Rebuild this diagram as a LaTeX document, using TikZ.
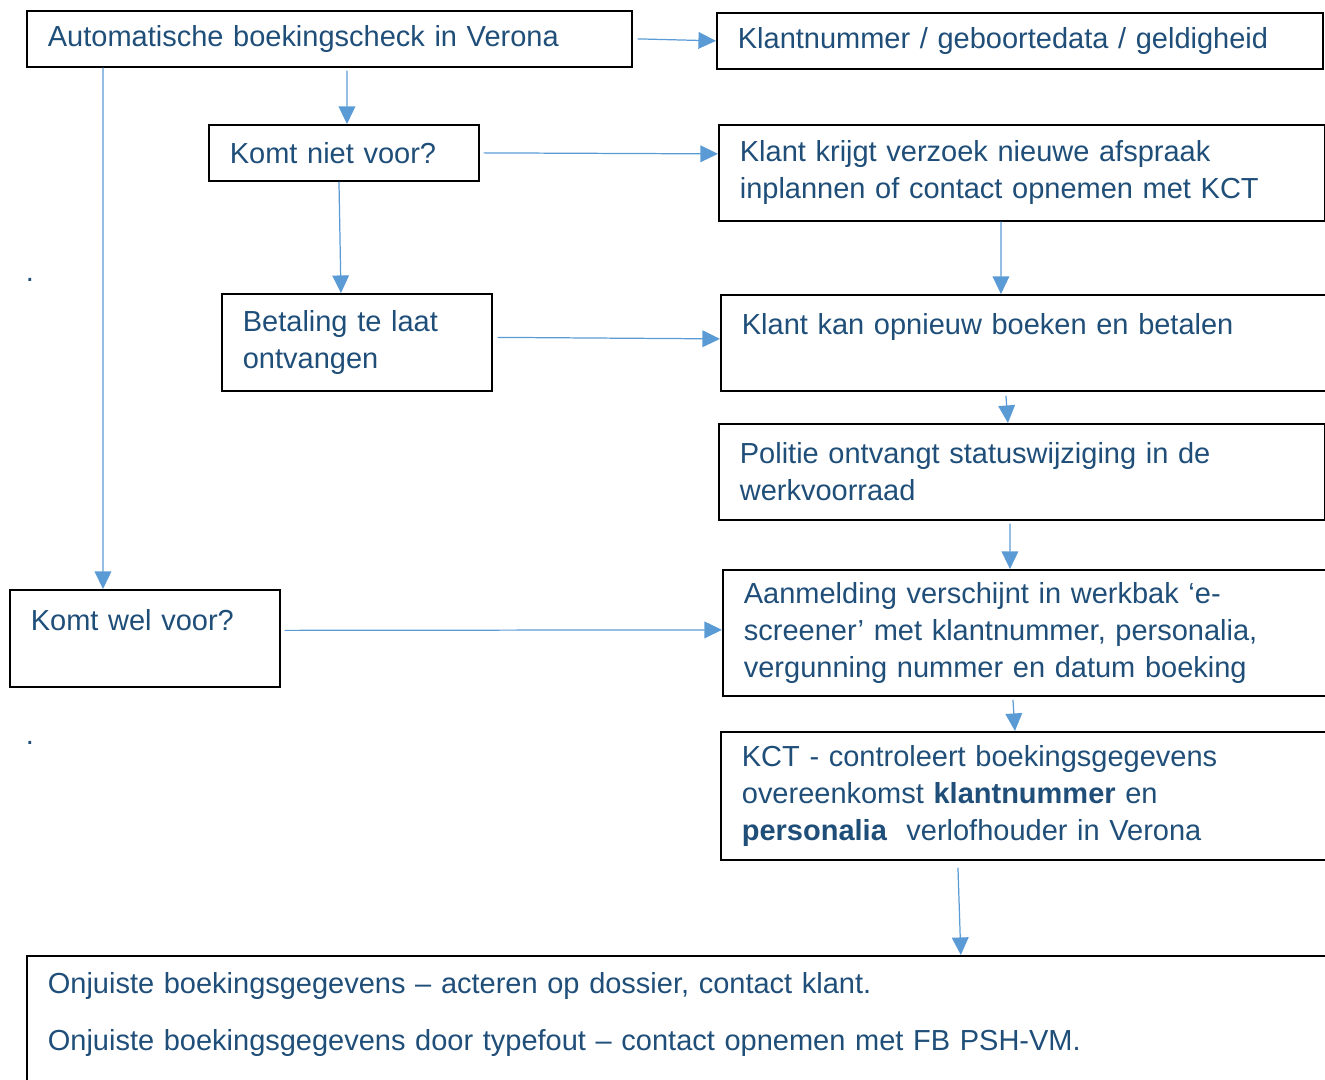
\documentclass[tikz,border=0pt]{standalone}
\usepackage{fontspec}
\setmainfont{Liberation Sans}
\usetikzlibrary{arrows.meta}
\definecolor{tekstblauw}{HTML}{1F4E79}
\definecolor{pijlblauw}{HTML}{5B9BD5}
\begin{document}
\begin{tikzpicture}[x=0.02cm,y=-0.02cm,
  stap/.style={draw=black,line width=1pt,anchor=north west,inner xsep=0.42cm,inner ysep=0pt,align=left,text=tekstblauw,font=\fontsize{16.5}{21}\selectfont},
  stapK/.style={stap,text width=4.56cm},
  stapL/.style={stap,text width=11.28cm},
  pijl/.style={draw=pijlblauw,line width=0.7pt,-{Triangle[length=10pt,width=9.5pt]}}]
\useasboundingbox (0,0) rectangle (1325,1079);
\clip (0,0) rectangle (1325,1079);

\node[stap,text width=11.26cm,minimum height=1.12cm] (A) at (26,10) {Automatische boekingscheck in Verona};
\node[stapL,minimum height=1.12cm] (K) at (716,12) {Klantnummer / geboortedata / geldigheid};
\node[stapK,minimum height=1.12cm] (N) at (208,124) {Komt niet voor?};
\node[stapL,minimum height=1.92cm] (V) at (718,124) {Klant krijgt verzoek nieuwe afspraak\\inplannen of contact opnemen met KCT};
\node[stapK,minimum height=1.94cm] (B) at (221,293) {Betaling te laat\\ontvangen};
\node[stapL,text width=11.36cm,minimum height=1.92cm] (O) at (720,294) {Klant kan opnieuw boeken en betalen\\\mbox{}};
\node[stapL,minimum height=1.92cm] (P) at (718,423) {Politie ontvangt statuswijziging in de\\werkvoorraad};
\node[stapK,minimum height=1.94cm] (W) at (9,589) {Komt wel voor?\\\mbox{}};
\node[stapL,text width=11.36cm,minimum height=2.52cm] (M) at (722,569) {Aanmelding verschijnt in werkbak ‘e-\\screener’ met klantnummer, personalia,\\vergunning nummer en datum boeking};
\node[stapL,text width=11.36cm,minimum height=2.56cm] (C) at (720,731) {KCT - controleert boekingsgegevens\\overeenkomst \textbf{klantnummer} en\\\textbf{personalia}\ \ verlofhouder in Verona};
\node[stap,text width=25.36cm,inner ysep=0.34cm] (F) at (26,955) {Onjuiste boekingsgegevens – acteren op dossier, contact klant.\\[11.5pt]Onjuiste boekingsgegevens door typefout – contact opnemen met FB PSH-VM.\\[11.5pt]\mbox{}};

\node[text=tekstblauw,font=\fontsize{16.5}{21}\selectfont] (punt1) at (30,280) {.};
\node[text=tekstblauw,font=\fontsize{16.5}{21}\selectfont] (punt2) at (30,743) {.};

\draw[pijl] ([xshift=0.1cm]A.east) -- (K.west);
\draw[pijl] ([xshift=6.42cm,yshift=-0.06cm]A.south west) -- ([xshift=2.78cm]N.north west);
\draw[pijl] ([xshift=1.54cm]A.south west) -- ([xshift=1.88cm]W.north west);
\draw[pijl] ([xshift=0.08cm]N.east) -- ([yshift=0.38cm]V.west);
\draw[pijl] ([xshift=2.62cm]N.south west) -- ([xshift=2.4cm]B.north west);
\draw[pijl] ([xshift=5.66cm]V.south west) -- ([xshift=5.62cm]O.north west);
\draw[pijl] ([xshift=0.1cm,yshift=0.1cm]B.east) -- ([yshift=0.08cm]O.west);
\draw[pijl] ([xshift=5.72cm,yshift=-0.08cm]O.south west) -- ([xshift=5.8cm]P.north west);
\draw[pijl] ([xshift=5.84cm,yshift=-0.06cm]P.south west) -- ([xshift=5.76cm]M.north west);
\draw[pijl] ([xshift=0.08cm,yshift=0.16cm]W.east) -- ([yshift=0.06cm]M.west);
\draw[pijl] ([xshift=5.82cm,yshift=-0.06cm]M.south west) -- ([xshift=5.9cm]C.north west);
\draw[pijl] ([xshift=4.76cm,yshift=-0.14cm]C.south west) -- ([xshift=18.7cm]F.north west);
\end{tikzpicture}
\end{document}
